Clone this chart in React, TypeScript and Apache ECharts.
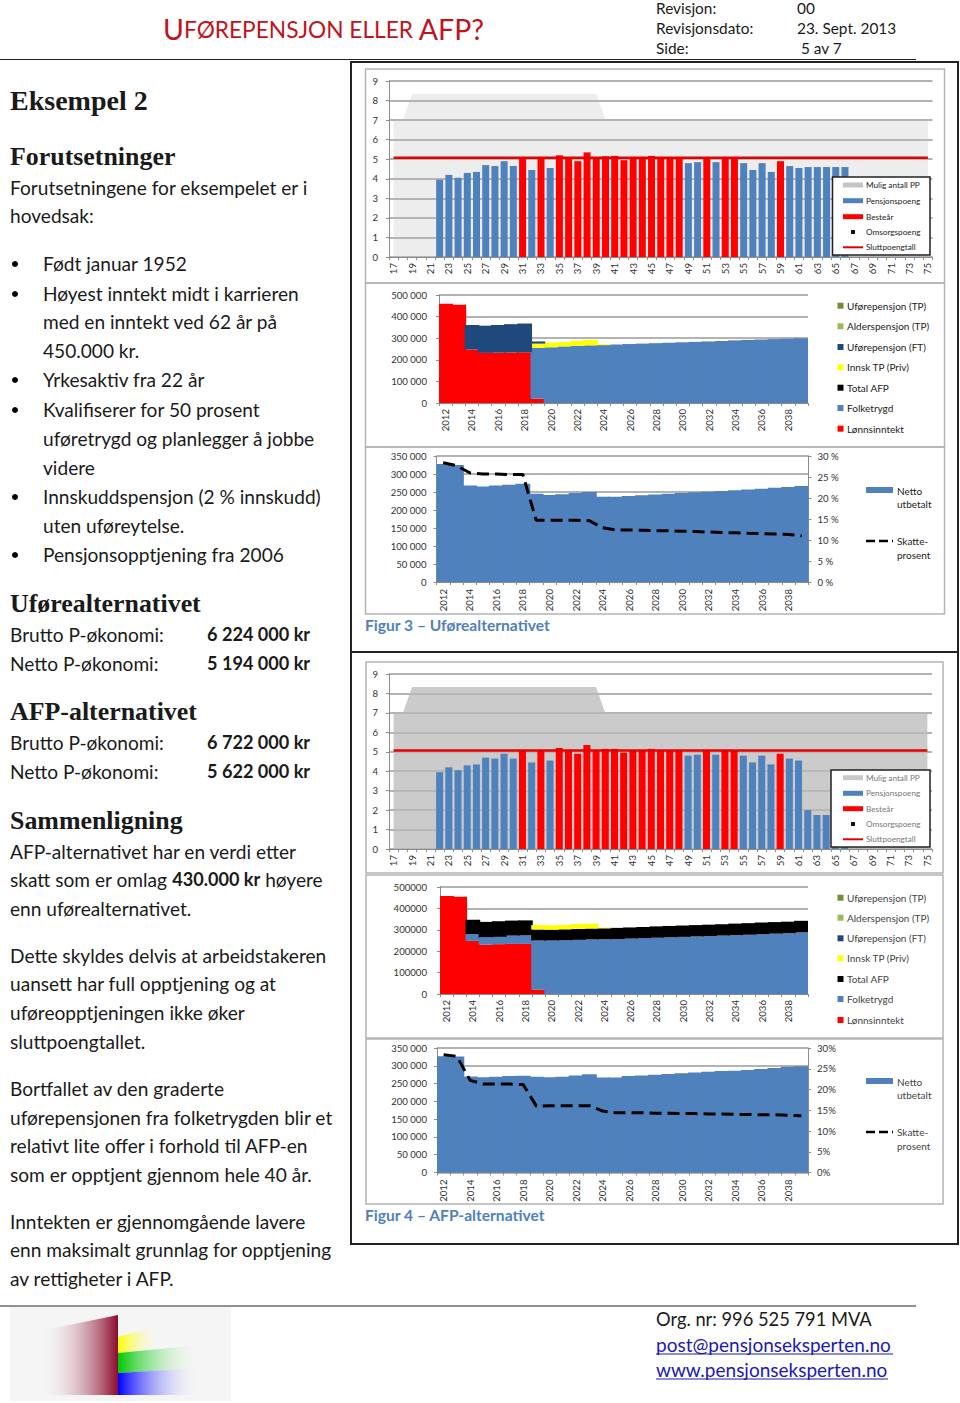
import React, { useEffect, useRef } from "react";
import * as echarts from "echarts";

// ---------- data ----------
const ages = ["17","18","19","20","21","22","23","24","25","26","27","28","29","30","31","32","33","34","35","36","37","38","39","40","41","42","43","44","45","46","47","48","49","50","51","52","53","54","55","56","57","58","59","60","61","62","63","64","65","66","67","68","69","70","71","72","73","74","75"];
const years = ["2012","2013","2014","2015","2016","2017","2018","2019","2020","2021","2022","2023","2024","2025","2026","2027","2028","2029","2030","2031","2032","2033","2034","2035","2036","2037","2038","2039"];
const _ = null;
const muligPP = [7,7,8.33,8.33,8.33,8.33,8.33,8.33,8.33,8.33,8.33,8.33,8.33,8.33,8.33,8.33,8.33,8.33,8.33,8.33,8.33,8.33,8.33,7,7,7,7,7,7,7,7,7,7,7,7,7,7,7,7,7,7,7,7,7,7,7,7,7,7,7,7,7,7,7,7,7,7,7,7];
const sluttpoeng = [5.07,5.07,5.07,5.07,5.07,5.07,5.07,5.07,5.07,5.07,5.07,5.07,5.07,5.07,5.07,5.07,5.07,5.07,5.07,5.07,5.07,5.07,5.07,5.07,5.07,5.07,5.07,5.07,5.07,5.07,5.07,5.07,5.07,5.07,5.07,5.07,5.07,5.07,5.07,5.07,5.07,5.07,5.07,5.07,5.07,5.07,5.07,5.07,5.07,5.07,5.07,5.07,5.07,5.07,5.07,5.07,5.07,5.07,5.07];
const pensjonspoengA = [_,_,_,_,_,3.95,4.2,4.05,4.3,4.35,4.7,4.65,4.9,4.65,_,4.45,_,4.55,_,_,_,_,_,_,_,_,_,_,_,_,_,_,4.8,4.85,_,4.85,_,_,4.8,4.45,4.8,4.35,_,4.65,4.55,4.6,4.6,4.6,4.6,4.6,_,_,_,_,_,_,_,_,_];
const bestearA = [_,_,_,_,_,_,_,_,_,_,_,_,_,_,5.05,_,5.05,_,5.2,5.05,4.9,5.35,5.05,5.15,5.17,4.95,5.05,5.05,5.17,5.05,5.05,5.05,_,_,5.05,_,5.05,5.05,_,_,_,_,4.9,_,_,_,_,_,_,_,_,_,_,_,_,_,_,_,_];
const pensjonspoengB = [_,_,_,_,_,3.95,4.2,4.05,4.3,4.35,4.7,4.65,4.9,4.65,_,4.45,_,4.55,_,_,_,_,_,_,_,_,_,_,_,_,_,_,4.8,4.85,_,4.85,_,_,4.8,4.45,4.8,4.35,_,4.65,4.55,2.0,1.75,1.75,1.7,1.7,_,_,_,_,_,_,_,_,_];
const bestearB = [_,_,_,_,_,_,_,_,_,_,_,_,_,_,5.05,_,5.05,_,5.2,5.05,4.9,5.35,5.05,5.15,5.15,4.95,5.05,5.05,5.15,5.05,5.05,5.05,_,_,5.05,_,5.05,5.05,_,_,_,_,4.9,_,_,_,_,_,_,_,_,_,_,_,_,_,_,_,_];

const lonnA = [460000,455000,248000,232000,233000,234000,235000,20000,_,_,_,_,_,_,_,_,_,_,_,_,_,_,_,_,_,_,_,_];
const folkA = [_,_,_,_,_,_,_,235000,258000,262000,265000,267000,268000,271000,273000,275000,277000,279000,281000,283000,285000,287000,290000,292000,294000,296000,298000,300000];
const innskA = [_,_,_,_,_,_,_,20000,22000,20000,23000,25000,4000,_,_,_,_,_,_,_,_,_,_,_,_,_,_,_];
const uforeFtA = [_,_,113000,126000,128000,131000,133000,10000,_,_,_,_,_,_,_,_,_,_,_,_,_,_,_,_,_,_,_,_];
const lonnB = [458000,455000,248000,230000,233000,234000,234000,20000,_,_,_,_,_,_,_,_,_,_,_,_,_,_,_,_,_,_,_,_];
const folkB = [_,_,32000,35000,34000,39000,40000,230000,250000,251000,253000,255000,256000,257000,259000,261000,263000,265000,267000,269000,271000,273000,275000,277000,280000,282000,284000,288000];
const afpB = [_,_,67000,72000,73000,70000,70000,51000,50000,51000,51000,51000,51000,52000,52000,52000,53000,53000,53000,53000,53000,53000,54000,54000,54000,54000,54000,54000];
const innskB = [_,_,_,_,_,_,_,21000,21000,21000,23000,23000,3000,_,_,_,_,_,_,_,_,_,_,_,_,_,_,_];

const nettoA = [328000,325000,268000,265000,268000,270000,273000,245000,242000,244000,247000,250000,237000,237000,239000,241000,243000,245000,247000,249000,251000,253000,255000,257000,259000,262000,264000,267000];
const skattA = [28.4,27.7,26,25.7,25.7,25.6,25.6,14.7,14.7,14.7,14.7,14.6,12.9,12.4,12.4,12.3,12.2,12.2,12.1,12.0,11.9,11.8,11.7,11.6,11.5,11.4,11.3,11.0];
const nettoB = [327000,326000,270000,268000,269000,271000,272000,269000,268000,269000,273000,276000,267000,267000,271000,273000,275000,277000,279000,281000,283000,285000,286000,288000,291000,294000,297000,299000];
const skattB = [28.4,28,22.2,21.3,21.3,21.3,21.2,16,16.1,16.1,16.1,16.1,14.8,14.4,14.4,14.4,14.3,14.3,14.2,14.2,14.1,14.1,14,14,13.9,13.9,13.8,13.7];

const pointLegend = ["Mulig antall PP","Pensjonspoeng","Besteår","Omsorgspoeng","Sluttpoengtall"];
const incomeLegend = ["Uførepensjon (TP)","Alderspensjon (TP)","Uførepensjon (FT)","Innsk TP (Priv)","Total AFP","Folketrygd","Lønnsinntekt"];
const incomeColors = ["#6f8f3a","#9bbb59","#1f497d","#ffff00","#000000","#4f81bd","#ff0000"];

const intro = ["Forutsetningene for eksempelet er i","hovedsak:"];
const bullets = ["Født januar 1952","Høyest inntekt midt i karrieren","med en inntekt ved 62 år på","450.000 kr.","Yrkesaktiv fra 22 år","Kvalifiserer for 50 prosent","uføretrygd og planlegger å jobbe","videre","Innskuddspensjon (2 % innskudd)","uten uføreytelse.","Pensjonsopptjening fra 2006"];
const bulletYs = [263,293,321,350,379,409,438,467,496,525,554];
const bulletDots = [264,294,380,410,497,555];
const paragraphs = ["AFP-alternativet har en verdi etter",null,"enn uførealternativet.","Dette skyldes delvis at arbeidstakeren","uansett har full opptjening og at","uføreopptjeningen ikke øker","sluttpoengtallet.","Bortfallet av den graderte","uførepensjonen fra folketrygden blir et","relativt lite offer i forhold til AFP-en","som er opptjent gjennom hele 40 år.","Inntekten er gjennomgående lavere","enn maksimalt grunnlag for opptjening","av rettigheter i AFP."];
const paragraphYs = [851,879,908,955,983,1012,1041,1088,1117,1145,1174,1221,1249,1278];

// ---------- helpers ----------
const SANS = "Lato, sans-serif";
const SERIF = "'Liberation Serif', serif";
const text = (x: number, y: number, s: string, font: string, fill = "#1a1a1a", extra: any = {}) => ({
  type: "text", x, y, z: 20, silent: true,
  style: { text: s, font, fill, verticalAlign: "middle", align: "left", ...extra },
});
const BODY = `19.1px ${SANS}`;
const BOLD = `bold 18.1px ${SANS}`;
const HEAD = `bold 25.9px ${SERIF}`;
const HDR = `15.4px ${SANS}`;
const frame = (x: number, y: number, w: number, h: number, stroke: string, lw: number) => ({
  type: "rect", z: 1, silent: true, shape: { x, y, width: w, height: h }, style: { fill: "none", stroke, lineWidth: lw },
});
const hline = (x1: number, x2: number, y: number, stroke: string, lw = 1) => ({
  type: "line", z: 20, silent: true, shape: { x1, y1: y, x2, y2: y }, style: { stroke, lineWidth: lw },
});
const grad = (c: string) => ({
  type: "linear", x: 0, y: 0, x2: 1, y2: 0,
  colorStops: [{ offset: 0, color: c }, { offset: 1, color: "rgba(245,245,245,0)" }],
});

function pointLegendGfx(x: number, y: number, w: number, h: number, ys: number[], fg: string, area: string) {
  const colors = [area, "#4f81bd", "#ff0000"];
  const out: any[] = [
    { type: "rect", z: 15, silent: true, shape: { x, y, width: w, height: h }, style: { fill: "#fff", stroke: "#222", lineWidth: 1.5 } },
  ];
  pointLegend.forEach((name, i) => {
    if (i < 3) out.push({ type: "rect", z: 16, silent: true, shape: { x: 843, y: ys[i] - 2.5, width: 20, height: 5 }, style: { fill: colors[i] } });
    else if (i === 3) out.push({ type: "rect", z: 16, silent: true, shape: { x: 851, y: ys[i] - 2, width: 4, height: 4 }, style: { fill: "#111" } });
    else out.push({ type: "rect", z: 16, silent: true, shape: { x: 843, y: ys[i] - 1, width: 20, height: 2 }, style: { fill: "#e00000" } });
    out.push({ ...text(866, ys[i], name, `8.2px ${SANS}`, fg), z: 16 });
  });
  return out;
}
function incomeLegendGfx(ys: number[], fg: string) {
  const out: any[] = [];
  incomeLegend.forEach((name, i) => {
    out.push({ type: "rect", z: 16, silent: true, shape: { x: 837.5, y: ys[i] - 3, width: 6, height: 6 }, style: { fill: incomeColors[i] } });
    out.push({ ...text(847, ys[i], name, `10px ${SANS}`, fg), z: 16 });
  });
  return out;
}
function nettoLegendGfx(yBar: number, yDash: number, skatte2: string, fg: string) {
  return [
    { type: "rect", z: 16, silent: true, shape: { x: 866, y: yBar - 3, width: 27, height: 6 }, style: { fill: "#4f81bd" } },
    text(897, yBar + 1, "Netto", `10px ${SANS}`, fg),
    text(897, yBar + 14, "utbetalt", `10px ${SANS}`, fg),
    { type: "line", z: 16, silent: true, shape: { x1: 866, y1: yDash, x2: 893, y2: yDash }, style: { stroke: "#000", lineWidth: 2.5, lineDash: [9, 4] } },
    text(897, yDash, "Skatte-", `10px ${SANS}`, fg),
    text(897, yDash + 14, skatte2, `10px ${SANS}`, fg),
  ];
}

const axisText = { color: "#333", fontFamily: SANS, fontSize: 9.6 };
const axisColor = "#8c8c8c";
const xAxisFor = (gridIndex: number, data: string[], margin = 6) => ({
  type: "category", gridIndex, data,
  axisLine: { show: true, onZero: false, lineStyle: { color: axisColor } },
  axisTick: { show: true, interval: 0, length: 3, lineStyle: { color: axisColor } },
  axisLabel: { ...axisText, rotate: 90, interval: 1, margin, hideOverlap: false },
  splitLine: { show: false },
});
const yAxisFor = (gridIndex: number, max: number, interval: number, fmt: (v: number) => string, margin: number) => ({
  type: "value", gridIndex, min: 0, max, interval,
  axisLine: { show: true, lineStyle: { color: axisColor } },
  axisTick: { show: true, length: 3, lineStyle: { color: axisColor } },
  axisLabel: { ...axisText, formatter: fmt, margin },
  splitLine: { show: true, lineStyle: { color: "#9a9a9a", width: 1.5 } },
});
const rightAxisFor = (gridIndex: number, fmt: (v: number) => string) => ({
  type: "value", gridIndex, position: "right", min: 0, max: 30, interval: 5,
  axisLine: { show: true, lineStyle: { color: axisColor } },
  axisTick: { show: true, length: 3, lineStyle: { color: axisColor } },
  axisLabel: { ...axisText, formatter: fmt, margin: 9 },
  splitLine: { show: false },
});
const spaced = (v: number) => (v === 0 ? "0" : String(v).replace(/\B(?=(\d{3})+$)/g, " "));
// full-width blocks overlap their neighbours slightly, so that they read as one stepped area
const block = (name: string, i: number, y: number, data: any[], color: string, stack?: string) => ({
  name, type: "bar", xAxisIndex: i, yAxisIndex: y, stack, data, barWidth: "112%", z: 3,
  itemStyle: { color },
});
function pointSeries(i: number, yIdx: number, blue: any[], red: any[], area: string) {
  return [
    { name: "Mulig antall PP", type: "line", xAxisIndex: i, yAxisIndex: yIdx, data: muligPP, symbol: "none", z: 1,
      lineStyle: { width: 0 }, areaStyle: { color: area, opacity: 1 } },
    { name: "Pensjonspoeng", type: "bar", xAxisIndex: i, yAxisIndex: yIdx, data: blue, barWidth: 7, barGap: "-100%", z: 3, itemStyle: { color: "#4f81bd" } },
    { name: "Besteår", type: "bar", xAxisIndex: i, yAxisIndex: yIdx, data: red, barWidth: 7, barGap: "-100%", z: 3, itemStyle: { color: "#ff0000" } },
    { name: "Sluttpoengtall", type: "line", xAxisIndex: i, yAxisIndex: yIdx, data: sluttpoeng, symbol: "none", z: 5, lineStyle: { color: "#e60000", width: 2.5 } },
  ];
}
const dashSeries = (i: number, yIdx: number, data: number[]) => ({
  name: "Skatteprosent", type: "line", xAxisIndex: i, yAxisIndex: yIdx, data, symbol: "none", z: 6,
  lineStyle: { color: "#000", width: 3, type: [12, 6] },
});

function buildOption() {
  const titleRed = "#c0141c";
  const graphicEls: any[] = [
    // page rules and panels
    hline(0, 916, 59.5, "#222", 1.2),
    hline(0, 916, 1306, "#222", 1.2),
    frame(351, 62, 607, 590, "#222", 2),
    frame(351, 652, 607, 592, "#222", 2),
    frame(365.5, 69, 579, 214, "#b4b4b4", 1.5),
    frame(365.5, 283, 579, 164, "#b4b4b4", 1.5),
    frame(365.5, 447, 579, 167, "#b4b4b4", 1.5),
    frame(366, 662, 577, 211, "#b4b4b4", 1.5),
    frame(366, 875, 577, 163, "#b4b4b4", 1.5),
    frame(366, 1039, 577, 165, "#b4b4b4", 1.5),
    // header
    { type: "text", x: 163, y: 29, z: 20, silent: true,
      style: { text: "{b|U}{s|FØREPENSJON ELLER }{b|AFP?}", verticalAlign: "middle", fill: titleRed,
        rich: { b: { fontSize: 28.5, fontFamily: SANS, fill: titleRed, color: titleRed }, s: { fontSize: 22.7, fontFamily: SANS, fill: titleRed, color: titleRed } } } },
    text(656, 8, "Revisjon:", HDR), text(797, 8, "00", HDR),
    text(656, 28, "Revisjonsdato:", HDR), text(797, 28, "23. Sept. 2013", HDR),
    text(656, 48, "Side:", HDR), text(801, 48, "5 av 7", HDR),
    // left column
    text(10, 100, "Eksempel 2", `bold 28px ${SERIF}`),
    text(10, 156, "Forutsetninger", HEAD),
    text(10, 187, intro[0], BODY), text(10, 215, intro[1], BODY),
    ...bullets.map((b, i) => text(43, bulletYs[i], b, BODY)),
    ...bulletDots.map((y) => ({ type: "circle", z: 20, silent: true, shape: { cx: 15, cy: y, r: 3 }, style: { fill: "#000" } })),
    text(10, 603, "Uførealternativet", HEAD),
    text(10, 634, "Brutto P-økonomi:", BODY), text(207, 634, "6 224 000 kr", BOLD),
    text(10, 663, "Netto P-økonomi:", BODY), text(207, 663, "5 194 000 kr", BOLD),
    text(10, 711, "AFP-alternativet", HEAD),
    text(10, 742, "Brutto P-økonomi:", BODY), text(207, 742, "6 722 000 kr", BOLD),
    text(10, 771, "Netto P-økonomi:", BODY), text(207, 771, "5 622 000 kr", BOLD),
    text(10, 820, "Sammenligning", HEAD),
    ...paragraphs.map((p, i) =>
      p === null
        ? { type: "text", x: 10, y: paragraphYs[i], z: 20, silent: true,
            style: { text: "{n|skatt som er omlag }{b|430.000 kr}{n| høyere}", verticalAlign: "middle",
              rich: { n: { fontSize: 19.1, fontFamily: SANS, color: "#1a1a1a", fill: "#1a1a1a" }, b: { fontSize: 18.1, fontWeight: "bold", fontFamily: SANS, color: "#1a1a1a", fill: "#1a1a1a" } } } }
        : text(10, paragraphYs[i], p, BODY)
    ),
    // captions
    text(365, 624.5, "Figur 3 – Uførealternativet", `bold 15.6px ${SANS}`, "#4f81bd"),
    text(365, 1214.5, "Figur 4 – AFP-alternativet", `bold 15.6px ${SANS}`, "#4f81bd"),
    // footer text
    text(656, 1319, "Org. nr: 996 525 791 MVA", `18.3px ${SANS}`),
    text(656, 1344, "post@pensjonseksperten.no", `19px ${SANS}`, "#1a1ab4"),
    hline(656, 893, 1354, "#1a1ab4", 1),
    text(656, 1369, "www.pensjonseksperten.no", `19px ${SANS}`, "#1a1ab4"),
    hline(656, 888, 1379, "#1a1ab4", 1),
    // logo
    { type: "rect", z: 1, silent: true, shape: { x: 10, y: 1307, width: 221, height: 94 }, style: { fill: "#f5f5f5" } },
    { type: "polygon", z: 2, silent: true, shape: { points: [[40, 1331], [118, 1315], [118, 1395], [40, 1395]] },
      style: { fill: { type: "linear", x: 0, y: 0, x2: 1, y2: 0, colorStops: [{ offset: 0, color: "rgba(245,245,245,0)" }, { offset: 1, color: "#8c0a2c" }] } } },
    { type: "polygon", z: 2, silent: true, shape: { points: [[118, 1337], [160, 1326], [160, 1347], [118, 1353]] }, style: { fill: grad("#ffff00") } },
    { type: "polygon", z: 2, silent: true, shape: { points: [[118, 1353], [200, 1345], [200, 1368], [118, 1373]] }, style: { fill: grad("#00c800") } },
    { type: "polygon", z: 2, silent: true, shape: { points: [[118, 1373], [200, 1368], [200, 1395], [118, 1395]] }, style: { fill: grad("#0000ff") } },
    // legends
    ...pointLegendGfx(832.5, 177, 97.5, 78, [185, 200.7, 216.7, 232, 247.3], "#222", "#c4c4c4"),
    ...pointLegendGfx(831, 770, 99, 77, [777.7, 793.3, 808.7, 824, 839.3], "#777", "#c9c9c9"),
    ...incomeLegendGfx([305.7, 326.3, 347, 367.3, 387.7, 408, 428.7], "#222"),
    ...incomeLegendGfx([897.7, 917.7, 938.3, 958.3, 979, 999, 1020], "#444"),
    ...nettoLegendGfx(490, 541, "prosent", "#222"),
    ...nettoLegendGfx(1081, 1132, "prosent", "#444"),
  ];

  const grid = [
    { left: 389, top: 81, width: 543.5, height: 176 },
    { left: 439, top: 295, width: 369, height: 108 },
    { left: 436.5, top: 456, width: 372, height: 126 },
    { left: 389, top: 674, width: 543, height: 175 },
    { left: 440, top: 887, width: 368, height: 107 },
    { left: 437, top: 1048, width: 371, height: 124.5 },
  ];
  const xAxis = [
    xAxisFor(0, ages), xAxisFor(1, years), xAxisFor(2, years, 7),
    xAxisFor(3, ages), xAxisFor(4, years), xAxisFor(5, years, 7),
  ];
  const yAxis = [
    yAxisFor(0, 9, 1, (v) => String(v), 11),             // 0
    yAxisFor(1, 500000, 100000, spaced, 12),             // 1
    yAxisFor(2, 350000, 50000, spaced, 10),              // 2
    rightAxisFor(2, (v) => `${v} %`),                    // 3
    yAxisFor(3, 9, 1, (v) => String(v), 11),             // 4
    yAxisFor(4, 500000, 100000, (v) => String(v), 13),   // 5
    yAxisFor(5, 350000, 50000, spaced, 10),              // 6
    rightAxisFor(5, (v) => `${v}%`),                     // 7
  ];
  const series = [
    ...pointSeries(0, 0, pensjonspoengA, bestearA, "rgba(190,190,190,0.27)"),
    block("Lønnsinntekt", 1, 1, lonnA, "#ff0000", "a"),
    block("Folketrygd", 1, 1, folkA, "#4f81bd", "a"),
    block("Innsk TP (Priv)", 1, 1, innskA, "#ffff00", "a"),
    block("Uførepensjon (FT)", 1, 1, uforeFtA, "#1f497d", "a"),
    block("Netto utbetalt", 2, 2, nettoA, "#4f81bd"),
    dashSeries(2, 3, skattA),
    ...pointSeries(3, 4, pensjonspoengB, bestearB, "rgba(185,185,185,0.75)"),
    block("Lønnsinntekt", 4, 5, lonnB, "#ff0000", "b"),
    block("Folketrygd", 4, 5, folkB, "#4f81bd", "b"),
    block("Total AFP", 4, 5, afpB, "#000000", "b"),
    block("Innsk TP (Priv)", 4, 5, innskB, "#ffff00", "b"),
    block("Netto utbetalt", 5, 6, nettoB, "#4f81bd"),
    dashSeries(5, 7, skattB),
  ];
  return { animation: false, backgroundColor: "#fff", grid, xAxis, yAxis, series, graphic: { elements: graphicEls } };
}

export default function App() {
  const ref = useRef<HTMLDivElement>(null);
  useEffect(() => {
    const chart = echarts.init(ref.current!, undefined, { renderer: "svg" });
    chart.setOption(buildOption() as any);
    return () => chart.dispose();
  }, []);
  return <div ref={ref} style={{ position: "absolute", left: 0, top: 0, width: 960, height: 1403 }} />;
}
